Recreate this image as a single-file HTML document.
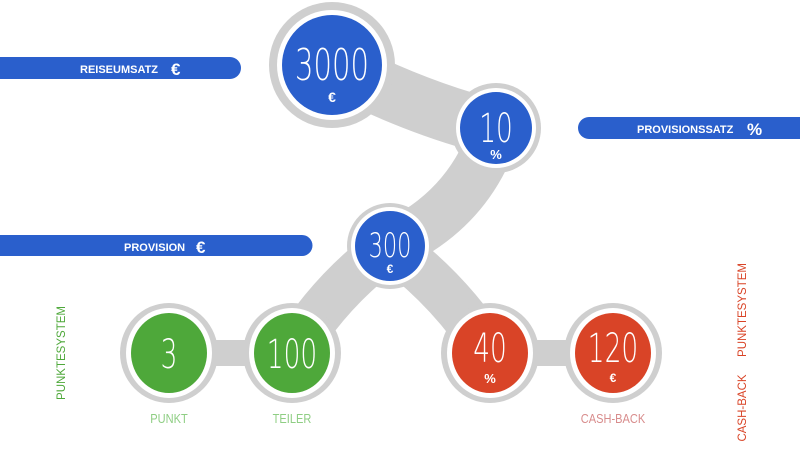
<!DOCTYPE html>
<html><head><meta charset="utf-8"><style>
body{margin:0;background:#fff;width:800px;height:444px;overflow:hidden}
svg text{font-family:"Liberation Sans",sans-serif}
.n{fill:#fff;font-family:"DejaVu Sans","Liberation Sans",sans-serif !important;font-weight:200}
.b{fill:#fff;font-weight:bold}
</style></head><body>
<svg width="800" height="444" viewBox="0 0 800 444">
<g fill="#2a5fcc">
<path d="M0 57H230a11 11 0 0 1 0 22H0z"/>
<path d="M589 117H800v22H589a11 11 0 0 1 0-22z"/>
<path d="M0 235H302a10.5 10.5 0 0 1 0 21H0z"/>
</g>
<text x="80" y="73" class="b" font-size="11">REISEUMSATZ</text>
<text x="171" y="75" class="b" font-size="17">€</text>
<text x="637" y="133" class="b" font-size="11">PROVISIONSSATZ</text>
<text x="747" y="135" class="b" font-size="17">%</text>
<text x="124" y="251" class="b" font-size="11">PROVISION</text>
<text x="196" y="253" class="b" font-size="17">€</text>
<g stroke="#cfcfcf" stroke-linecap="round" fill="none">
<path d="M332 65 Q420 110 496 128" stroke-width="56"/>
<path d="M496 128 Q470 210 390 246" stroke-width="50"/>
<path d="M390 246 Q330 290 292 353" stroke-width="46"/>
<path d="M390 246 Q450 290 490 353" stroke-width="46"/>
<path d="M169 353 L292 353" stroke-width="26"/>
<path d="M490 353 L613 353" stroke-width="26"/>
</g>
<g fill="#cfcfcf">
<circle cx="332" cy="65" r="63"/><circle cx="496" cy="128" r="45"/><circle cx="390" cy="246" r="43"/>
<ellipse cx="169" cy="353" rx="49" ry="50"/><ellipse cx="292" cy="353" rx="49" ry="50"/>
<ellipse cx="490" cy="353" rx="49" ry="50"/><ellipse cx="613" cy="353" rx="49" ry="50"/>
</g>
<g fill="#fff">
<circle cx="332" cy="65" r="55"/><circle cx="496" cy="128" r="40"/><circle cx="390" cy="246" r="39"/>
<ellipse cx="169" cy="353" rx="43" ry="45"/><ellipse cx="292" cy="353" rx="43" ry="45"/>
<ellipse cx="490" cy="353" rx="43" ry="45"/><ellipse cx="613" cy="353" rx="43" ry="45"/>
</g>
<circle cx="332" cy="65" r="50" fill="#2a5fcc"/>
<circle cx="496" cy="128" r="36" fill="#2a5fcc"/>
<circle cx="390" cy="246" r="35" fill="#2a5fcc"/>
<g fill="#4ea83a"><ellipse cx="169" cy="353" rx="38" ry="40"/><ellipse cx="292" cy="353" rx="38" ry="40"/></g>
<g fill="#d94427"><ellipse cx="490" cy="353" rx="38" ry="40"/><ellipse cx="613" cy="353" rx="38" ry="40"/></g>
<g text-anchor="middle">
<text x="332" y="80" class="n" font-size="44" transform="translate(332 0) scale(0.66 1) translate(-332 0)">3000</text>
<text x="332" y="102" class="b" font-size="14">€</text>
<text x="496" y="142" class="n" font-size="40" transform="translate(496 0) scale(0.66 1) translate(-496 0)">10</text>
<text x="496" y="159" class="b" font-size="13">%</text>
<text x="390" y="257" class="n" font-size="34" transform="translate(390 0) scale(0.66 1) translate(-390 0)">300</text>
<text x="390" y="273" class="b" font-size="12">€</text>
<text x="169" y="368" class="n" font-size="40" transform="translate(169 0) scale(0.66 1) translate(-169 0)">3</text>
<text x="292" y="368" class="n" font-size="40" transform="translate(292 0) scale(0.66 1) translate(-292 0)">100</text>
<text x="490" y="362" class="n" font-size="40" transform="translate(490 0) scale(0.66 1) translate(-490 0)">40</text>
<text x="490" y="383" class="b" font-size="13">%</text>
<text x="613" y="362" class="n" font-size="40" transform="translate(613 0) scale(0.66 1) translate(-613 0)">120</text>
<text x="613" y="382" class="b" font-size="12">€</text>
</g>
<g font-size="13" text-anchor="middle">
<text x="169" y="423" fill="#8fce84" transform="translate(169 0) scale(0.85 1) translate(-169 0)">PUNKT</text>
<text x="292" y="423" fill="#8fce84" transform="translate(292 0) scale(0.85 1) translate(-292 0)">TEILER</text>
<text x="613" y="423" fill="#d88c8c" transform="translate(613 0) scale(0.85 1) translate(-613 0)">CASH-BACK</text>
</g>
<g font-size="11.5" text-anchor="middle">
<text transform="translate(65 353) rotate(-90)" fill="#4ea83a">PUNKTESYSTEM</text>
<text transform="translate(746 310) rotate(-90)" fill="#d94427">PUNKTESYSTEM</text>
<text transform="translate(746 408) rotate(-90)" fill="#d94427">CASH-BACK</text>
</g>
</svg>
</body></html>
